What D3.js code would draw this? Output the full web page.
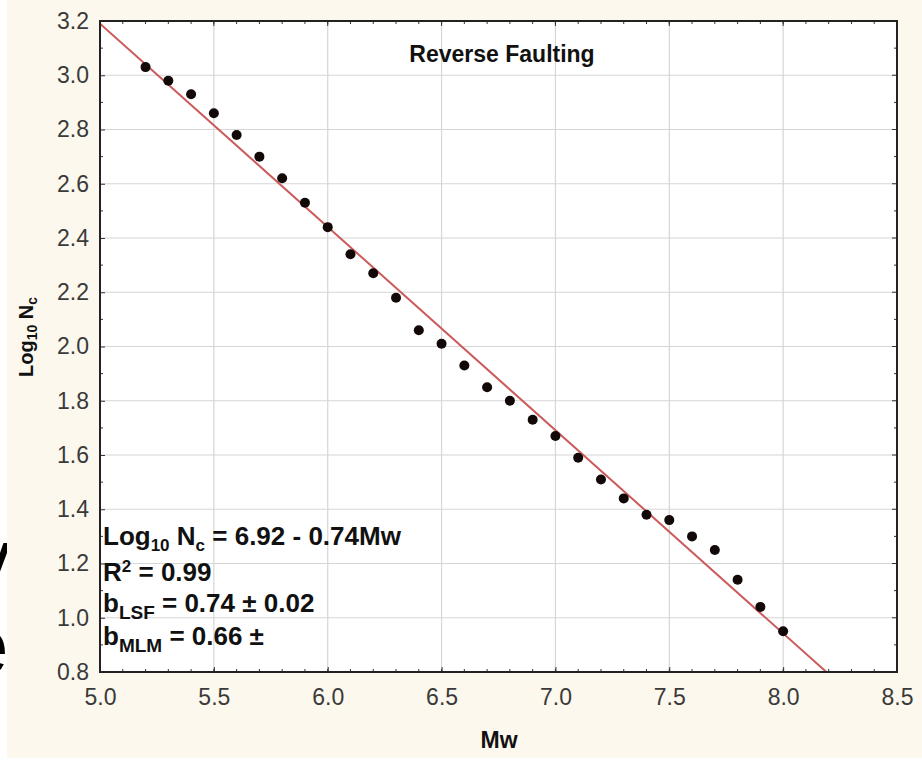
<!DOCTYPE html>
<html>
<head>
<meta charset="utf-8">
<script src="https://cdn.jsdelivr.net/npm/d3@7"></script>
<style>
  body { margin: 0; background: #fff; }
  svg { display: block; font-family: "Liberation Sans", Arial, sans-serif; }
</style>
</head>
<body>
<svg id="chart" width="922" height="763"></svg>
<script>
// values
var mw = [5.2, 5.3, 5.4, 5.5, 5.6, 5.7, 5.8, 5.9, 6.0, 6.1, 6.2, 6.3, 6.4, 6.5, 6.6,
          6.7, 6.8, 6.9, 7.0, 7.1, 7.2, 7.3, 7.4, 7.5, 7.6, 7.7, 7.8, 7.9, 8.0];
var logNc = [3.03, 2.98, 2.93, 2.86, 2.78, 2.70, 2.62, 2.53, 2.44, 2.34, 2.27, 2.18, 2.06, 2.01, 1.93,
             1.85, 1.80, 1.73, 1.67, 1.59, 1.51, 1.44, 1.38, 1.36, 1.30, 1.25, 1.14, 1.04, 0.95];
var fitMw = [5.0, 8.19];
var fitLog = [3.19, 0.80];
var xTicks = [5.0, 5.5, 6.0, 6.5, 7.0, 7.5, 8.0, 8.5];
var yTicks = [0.8, 1.0, 1.2, 1.4, 1.6, 1.8, 2.0, 2.2, 2.4, 2.6, 2.8, 3.0, 3.2];

var svg = d3.select("#chart");
var pLeft = 100, pRight = 897, pTop = 21, pBottom = 672;

// bits of slide text peeking in at the left edge
svg.append("text").attr("x", -28).attr("y", 584).attr("font-size", 78).attr("fill", "#000").text("v");
svg.append("text").attr("x", -35).attr("y", 673).attr("font-size", 78).attr("fill", "#000").text("e");

svg.append("rect").attr("x", 7).attr("y", 0).attr("width", 915).attr("height", 758).attr("fill", "#fcf8ed");

var x = d3.scaleLinear().domain([5.0, 8.5]).range([pLeft, pRight]);
var y = d3.scaleLinear().domain([0.8, 3.2]).range([pBottom, pTop]);

svg.append("rect")
    .attr("x", pLeft).attr("y", pTop)
    .attr("width", pRight - pLeft).attr("height", pBottom - pTop)
    .attr("fill", "#fff");

// grid
svg.append("g").selectAll("line")
    .data(xTicks.slice(1, -1))
  .enter().append("line")
    .attr("x1", function(d) { return x(d); }).attr("x2", function(d) { return x(d); })
    .attr("y1", pTop).attr("y2", pBottom)
    .attr("stroke", "#d6d6d6").attr("stroke-width", 1.2);

svg.append("g").selectAll("line")
    .data(yTicks.slice(1, -1))
  .enter().append("line")
    .attr("y1", function(d) { return y(d); }).attr("y2", function(d) { return y(d); })
    .attr("x1", pLeft).attr("x2", pRight)
    .attr("stroke", "#d6d6d6").attr("stroke-width", 1.2);

// minor ticks, inside, all four sides
var xMinor = d3.range(5.1, 8.45, 0.1);
var yMinor = d3.range(0.9, 3.15, 0.2);
var tk = svg.append("g").attr("stroke", "#333").attr("stroke-width", 1);
xMinor.forEach(function(d) {
  tk.append("line").attr("x1", x(d)).attr("x2", x(d)).attr("y1", pBottom).attr("y2", pBottom - 3);
  tk.append("line").attr("x1", x(d)).attr("x2", x(d)).attr("y1", pTop).attr("y2", pTop + 3);
});
yMinor.forEach(function(d) {
  tk.append("line").attr("y1", y(d)).attr("y2", y(d)).attr("x1", pLeft).attr("x2", pLeft + 3);
  tk.append("line").attr("y1", y(d)).attr("y2", y(d)).attr("x1", pRight).attr("x2", pRight - 3);
});
xTicks.forEach(function(d) {
  tk.append("line").attr("x1", x(d)).attr("x2", x(d)).attr("y1", pTop).attr("y2", pTop + 5);
});
yTicks.forEach(function(d) {
  tk.append("line").attr("y1", y(d)).attr("y2", y(d)).attr("x1", pRight).attr("x2", pRight - 5);
});

// axes
var xAxis = svg.append("g")
    .attr("transform", "translate(0," + pBottom + ")")
    .call(d3.axisBottom(x).tickValues(xTicks).tickFormat(d3.format(".1f"))
      .tickSizeInner(-5).tickSizeOuter(0).tickPadding(17));

var yAxis = svg.append("g")
    .attr("transform", "translate(" + pLeft + ",0)")
    .call(d3.axisLeft(y).tickValues(yTicks).tickFormat(d3.format(".1f"))
      .tickSizeInner(-5).tickSizeOuter(0).tickPadding(11));

[xAxis, yAxis].forEach(function(a) {
  a.select(".domain").remove();
  a.selectAll(".tick line").attr("stroke", "#333");
  a.selectAll("text")
      .attr("font-family", "'Liberation Sans', Arial, sans-serif")
      .attr("font-size", 23)
      .attr("fill", "#3a3a3a");
});

// fit line
svg.append("clipPath").attr("id", "clip")
  .append("rect").attr("x", pLeft).attr("y", pTop).attr("width", pRight - pLeft).attr("height", pBottom - pTop);

svg.append("path")
    .datum(d3.zip(fitMw, fitLog))
    .attr("clip-path", "url(#clip)")
    .attr("d", d3.line().x(function(d) { return x(d[0]); }).y(function(d) { return y(d[1]); }))
    .attr("fill", "none")
    .attr("stroke", "#cc5a5a")
    .attr("stroke-width", 2);

// points
svg.append("g").selectAll("circle")
    .data(d3.zip(mw, logNc))
  .enter().append("circle")
    .attr("cx", function(d) { return x(d[0]); })
    .attr("cy", function(d) { return y(d[1]); })
    .attr("r", 5)
    .attr("fill", "#120808");

// frame
svg.append("rect")
    .attr("x", pLeft).attr("y", pTop)
    .attr("width", pRight - pLeft).attr("height", pBottom - pTop)
    .attr("fill", "none").attr("stroke", "#222").attr("stroke-width", 2);

// title
svg.append("text")
    .attr("x", 502).attr("y", 62)
    .attr("text-anchor", "middle")
    .attr("font-size", 23).attr("font-weight", "bold").attr("fill", "#111")
    .text("Reverse Faulting");

// axis titles
svg.append("text")
    .attr("x", 499).attr("y", 748)
    .attr("text-anchor", "middle")
    .attr("font-size", 23).attr("font-weight", "bold").attr("fill", "#111")
    .text("Mw");

var yt = svg.append("text")
    .attr("transform", "translate(33,337) rotate(-90)")
    .attr("text-anchor", "middle")
    .attr("font-size", 20).attr("font-weight", "bold").attr("fill", "#111");
yt.append("tspan").text("Log");
yt.append("tspan").attr("font-size", 14).attr("dy", 4).text("10");
yt.append("tspan").attr("dy", -4).text(" N");
yt.append("tspan").attr("font-size", 14).attr("dy", 4).text("c");

// annotation
var ann = svg.append("g").attr("font-size", 26).attr("font-weight", "bold").attr("fill", "#111");
var l1 = ann.append("text").attr("x", 103).attr("y", 545);
l1.append("tspan").text("Log");
l1.append("tspan").attr("font-size", 17).attr("dy", 6).text("10");
l1.append("tspan").attr("dy", -6).text(" N");
l1.append("tspan").attr("font-size", 17).attr("dy", 6).text("c");
l1.append("tspan").attr("dy", -6).text(" = 6.92 - 0.74Mw");

var l2 = ann.append("text").attr("x", 103).attr("y", 581);
l2.append("tspan").text("R");
l2.append("tspan").attr("font-size", 17).attr("dy", -9).text("2");
l2.append("tspan").attr("dy", 9).text(" = 0.99");

var l3 = ann.append("text").attr("x", 103).attr("y", 612);
l3.append("tspan").text("b");
l3.append("tspan").attr("font-size", 19).attr("dy", 7).text("LSF");
l3.append("tspan").attr("dy", -7).text(" = 0.74 \u00b1 0.02");

var l4 = ann.append("text").attr("x", 103).attr("y", 645);
l4.append("tspan").text("b");
l4.append("tspan").attr("font-size", 19).attr("dy", 7).text("MLM");
l4.append("tspan").attr("dy", -7).text(" = 0.66 \u00b1");
</script>
</body>
</html>
